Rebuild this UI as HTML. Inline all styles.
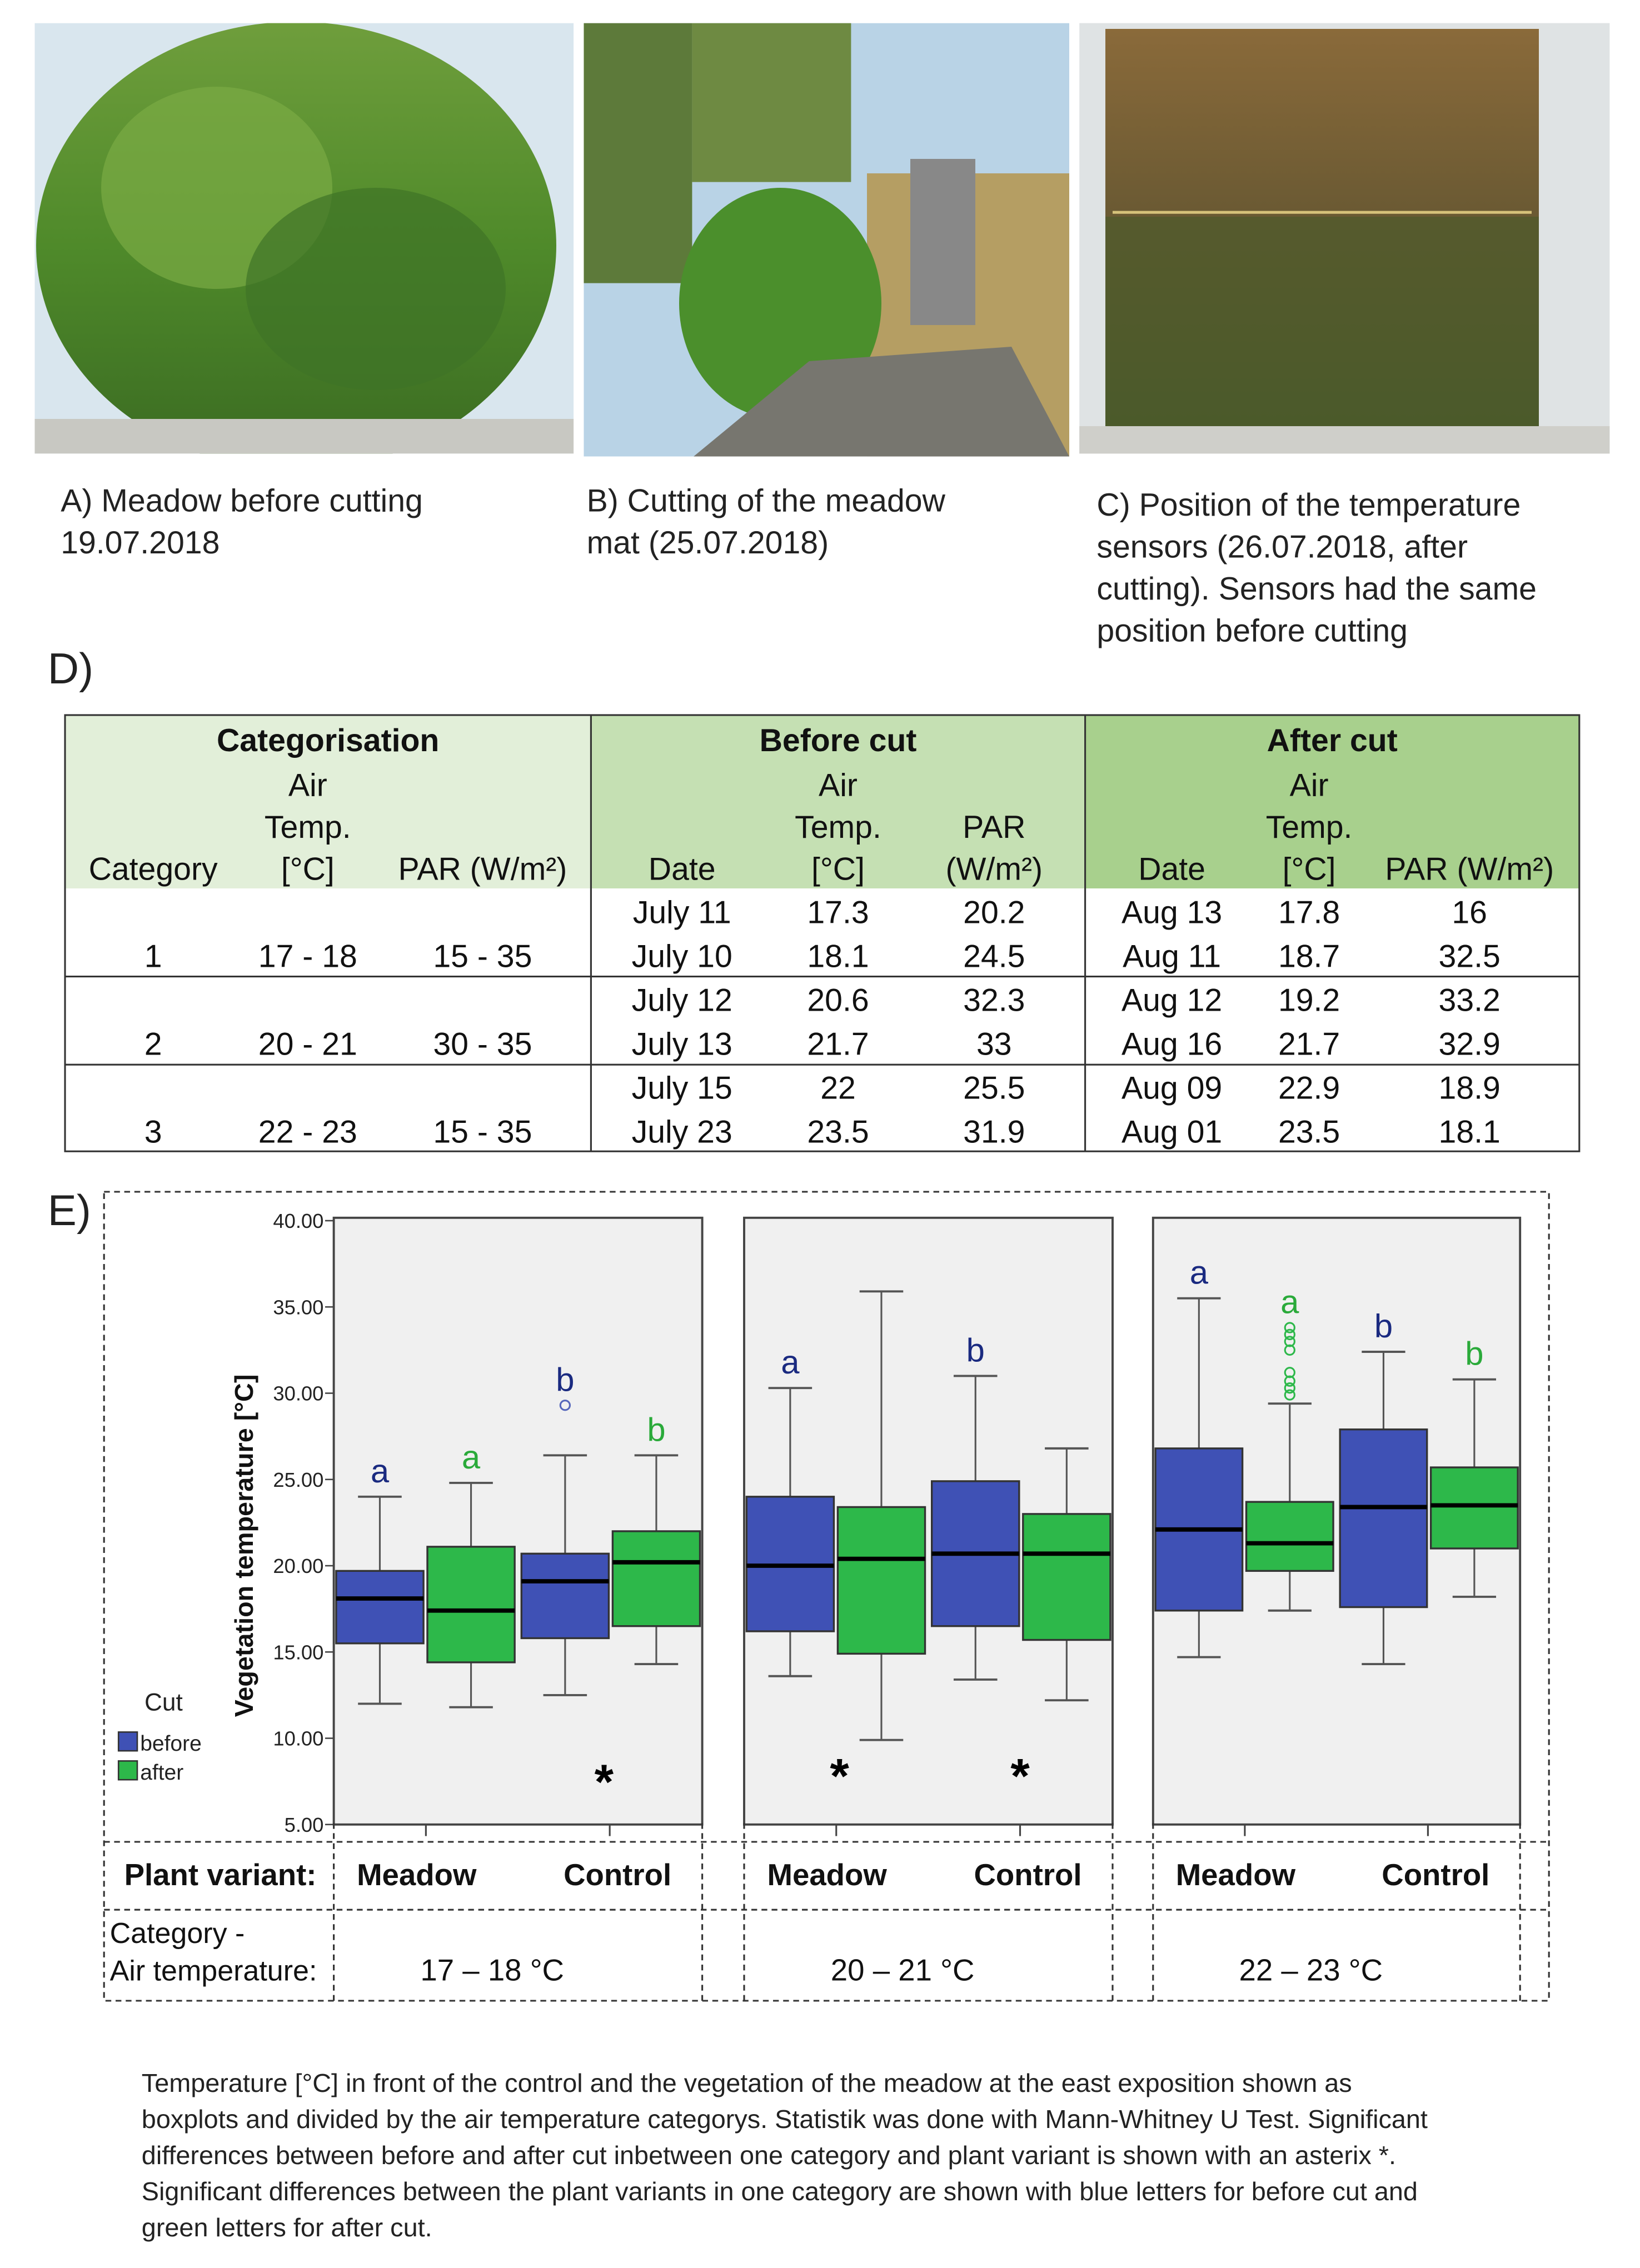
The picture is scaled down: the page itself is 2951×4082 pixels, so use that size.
<!DOCTYPE html>
<html><head><meta charset="utf-8"><style>
html,body{margin:0;padding:0;background:#fff;}
svg{display:block;font-family:"Liberation Sans",Arial,sans-serif;}
</style></head><body>
<svg id="fig" width="2951" height="4082" viewBox="0 0 1135 1570" xmlns="http://www.w3.org/2000/svg">
<defs>
<linearGradient id="gA" x1="0" y1="0" x2="0" y2="1"><stop offset="0" stop-color="#6f9e3c"/><stop offset="0.5" stop-color="#4f8a2a"/><stop offset="1" stop-color="#3a6a22"/></linearGradient>
<linearGradient id="gC" x1="0" y1="0" x2="0" y2="1"><stop offset="0" stop-color="#8a6a3a"/><stop offset="0.45" stop-color="#6b5a33"/><stop offset="1" stop-color="#4d5a2c"/></linearGradient>
<clipPath id="cA"><rect x="24" y="16" width="373" height="298"/></clipPath>
<clipPath id="cB"><rect x="404" y="16" width="336" height="300"/></clipPath>
</defs>
<g clip-path="url(#cA)">
<rect x="24" y="16" width="373" height="298" fill="#d9e6ee"/>
<ellipse cx="205" cy="170" rx="180" ry="155" fill="url(#gA)"/>
<ellipse cx="150" cy="130" rx="80" ry="70" fill="#7aab45" opacity="0.7"/>
<ellipse cx="260" cy="200" rx="90" ry="70" fill="#3f7326" opacity="0.7"/>
<rect x="24" y="290" width="373" height="24" fill="#c8c8c2"/>
</g>
<g clip-path="url(#cB)">
<rect x="404" y="16" width="336" height="300" fill="#b9d3e6"/>
<rect x="404" y="16" width="75" height="180" fill="#5d7a3a"/>
<rect x="479" y="16" width="110" height="110" fill="#6e8a42"/>
<rect x="600" y="120" width="140" height="196" fill="#b59e63"/>
<ellipse cx="540" cy="210" rx="70" ry="80" fill="#4b8f2c"/>
<polygon points="480,316 560,250 700,240 740,316" fill="#77766f"/>
<rect x="630" y="110" width="45" height="115" fill="#888"/>
</g>
<g>
<rect x="747" y="16" width="367" height="298" fill="#dfe3e4"/>
<rect x="765" y="20" width="300" height="280" fill="url(#gC)"/>
<rect x="765" y="150" width="300" height="150" fill="#4a5a2a" opacity="0.6"/>
<line x1="770" y1="147" x2="1060" y2="147" stroke="#d6c27a" stroke-width="2"/>
<rect x="747" y="295" width="367" height="19" fill="#cfcfca"/>
</g>
<g font-size="22" fill="#222">
<text x="42" y="354">A) Meadow before cutting</text>
<text x="42" y="383">19.07.2018</text>
<text x="406" y="354">B) Cutting of the meadow</text>
<text x="406" y="383">mat (25.07.2018)</text>
<text x="759" y="357">C) Position of the temperature</text>
<text x="759" y="386">sensors (26.07.2018, after</text>
<text x="759" y="415">cutting). Sensors had the same</text>
<text x="759" y="444">position before cutting</text>
</g>
<text x="33" y="473" font-size="30" fill="#222">D)</text>
<g>
<rect x="45" y="495" width="364" height="120" fill="#e2efd9"/>
<rect x="409" y="495" width="342" height="120" fill="#c5e0b3"/>
<rect x="751" y="495" width="342" height="120" fill="#a8d08d"/>
<g stroke="#333" stroke-width="1.2" fill="none">
<rect x="45" y="495" width="1048" height="302"/>
<line x1="409" y1="495" x2="409" y2="797"/><line x1="751" y1="495" x2="751" y2="797"/>
<line x1="45" y1="676" x2="1093" y2="676"/><line x1="45" y1="737" x2="1093" y2="737"/>
</g>
<g font-size="22" fill="#111" text-anchor="middle">
<text x="227" y="520" font-weight="bold">Categorisation</text>
<text x="580" y="520" font-weight="bold">Before cut</text>
<text x="922" y="520" font-weight="bold">After cut</text>
<text x="213" y="551">Air</text><text x="213" y="580">Temp.</text>
<text x="106" y="609">Category</text><text x="213" y="609">[°C]</text><text x="334" y="609">PAR (W/m²)</text>
<text x="580" y="551">Air</text><text x="580" y="580">Temp.</text><text x="688" y="580">PAR</text>
<text x="472" y="609">Date</text><text x="580" y="609">[°C]</text><text x="688" y="609">(W/m²)</text>
<text x="906" y="551">Air</text><text x="906" y="580">Temp.</text>
<text x="811" y="609">Date</text><text x="906" y="609">[°C]</text><text x="1017" y="609">PAR (W/m²)</text>
</g>
<g id="tbody" font-size="22" fill="#111" text-anchor="middle"></g>
</g>
<text x="33" y="848" font-size="30" fill="#222">E)</text>
<g id="chart"></g>
<g font-size="18" fill="#222">
<text x="98" y="1448">Temperature [°C] in front of the control and the vegetation of the meadow at the east exposition shown as</text>
<text x="98" y="1473">boxplots and divided by the air temperature categorys. Statistik was done with Mann-Whitney U Test. Significant</text>
<text x="98" y="1498">differences between before and after cut inbetween one category and plant variant is shown with an asterix *.</text>
<text x="98" y="1523">Significant differences between the plant variants in one category are shown with blue letters for before cut and</text>
<text x="98" y="1548">green letters for after cut.</text>
</g>
</svg>
<script>
const tableRows=[
 ["","","","July 11","17.3","20.2","Aug 13","17.8","16"],
 ["1","17 - 18","15 - 35","July 10","18.1","24.5","Aug 11","18.7","32.5"],
 ["","","","July 12","20.6","32.3","Aug 12","19.2","33.2"],
 ["2","20 - 21","30 - 35","July 13","21.7","33","Aug 16","21.7","32.9"],
 ["","","","July 15","22","25.5","Aug 09","22.9","18.9"],
 ["3","22 - 23","15 - 35","July 23","23.5","31.9","Aug 01","23.5","18.1"]];
const colX=[106,213,334,472,580,688,811,906,1017];
const NS="http://www.w3.org/2000/svg";
function mk(tag,attrs,parent,txt){const e=document.createElementNS(NS,tag);for(const k in attrs)e.setAttribute(k,attrs[k]);if(txt!==undefined)e.textContent=txt;parent.appendChild(e);return e;}
const tb=document.getElementById('tbody');
tableRows.forEach((r,i)=>r.forEach((v,j)=>{if(!v)return;const t=mk('text',{x:colX[j],y:639+i*30.4},tb,v);

}));

const panelLabels=["17 – 18 °C","20 – 21 °C","22 – 23 °C"];
const variants=["Meadow","Control"];
const whiskerLow=[12.0,11.8,12.5,14.3, 13.6,9.9,13.4,12.2, 14.7,17.4,14.3,18.2];
const q1=[15.5,14.4,15.8,16.5, 16.2,14.9,16.5,15.7, 17.4,19.7,17.6,21.0];
const median=[18.1,17.4,19.1,20.2, 20.0,20.4,20.7,20.7, 22.1,21.3,23.4,23.5];
const q3=[19.7,21.1,20.7,22.0, 24.0,23.4,24.9,23.0, 26.8,23.7,27.9,25.7];
const whiskerHigh=[24.0,24.8,26.4,26.4, 30.3,35.9,31.0,26.8, 35.5,29.4,32.4,30.8];
const outliers=[[],[],[29.3],[], [],[],[],[], [],[29.9,30.3,30.7,31.2,32.5,33.0,33.4,33.8],[],[]];
const letters=["a","a","b","b", "a","","b","", "a","a","b","b"];
const yTicks=[5,10,15,20,25,30,35,40];
const yMin=5,yMax=40,yTop=845,yBot=1263;
const y=v=>yBot-(v-yMin)/(yMax-yMin)*(yBot-yTop);
const panelX=[[231,486],[515,770],[798,1052]];
const ch=document.getElementById('chart');
const BLUE="#3f51b5",GREEN="#2db84a";
const fr=mk('rect',{x:72,y:825,width:1000,height:560,fill:'none',stroke:'#333','stroke-dasharray':'4,3','stroke-width':1.2},ch);


panelX.forEach((px,p)=>{
 const bg=mk('rect',{x:px[0],y:yTop-2,width:px[1]-px[0],height:yBot-yTop+2,fill:'#f0f0f0',stroke:'#444','stroke-width':1.5},ch);
 
 
 const w=(px[1]-px[0]);
 for(let k=0;k<4;k++){
  const i=p*4+k;
  const cx=px[0]+w*(0.125+0.2475*k)+(k>=2?2:0);
  const bw=w*0.237;
  const col=k%2===0?BLUE:GREEN;
  const g=mk('g',{},ch);
  
  
  mk('line',{x1:cx,x2:cx,y1:y(whiskerLow[i]),y2:y(whiskerHigh[i]),stroke:'#555','stroke-width':1.2},g);
  mk('line',{x1:cx-bw/4,x2:cx+bw/4,y1:y(whiskerLow[i]),y2:y(whiskerLow[i]),stroke:'#555','stroke-width':1.5},g);
  mk('line',{x1:cx-bw/4,x2:cx+bw/4,y1:y(whiskerHigh[i]),y2:y(whiskerHigh[i]),stroke:'#555','stroke-width':1.5},g);
  mk('rect',{x:cx-bw/2,y:y(q3[i]),width:bw,height:y(q1[i])-y(q3[i]),fill:col,stroke:'#333','stroke-width':1.3},g);
  mk('line',{x1:cx-bw/2,x2:cx+bw/2,y1:y(median[i]),y2:y(median[i]),stroke:'#000','stroke-width':3},g);
  outliers[i].forEach(o=>mk('circle',{cx:cx,cy:y(o),r:3.3,fill:'none',stroke:k%2?GREEN:'#5566bb','stroke-width':1.2},g));
  if(letters[i]){const top=Math.max(whiskerHigh[i],...outliers[i]);
   mk('text',{x:cx,y:y(top)-10,'font-size':23,'text-anchor':'middle',fill:k%2?'#2aaa3a':'#1a2a80'},g,letters[i]);}
 }
 [0,1].forEach(v=>{const tx=px[0]+w*(0.25+0.495*v)+(v?1:0);mk('line',{x1:tx,x2:tx,y1:yBot,y2:yBot+8,stroke:'#444','stroke-width':1.2},ch);});
});
[[418,1245],[581,1241],[706,1241]].forEach(([ax,ay])=>{const t=mk('text',{x:ax,y:ay,'font-size':34,'font-weight':'bold','text-anchor':'middle',fill:'#000'},ch,'*');
 
 });
yTicks.forEach(v=>{mk('line',{x1:225,x2:231,y1:y(v),y2:y(v),stroke:'#444'},ch);
 const t=mk('text',{x:224,y:y(v)+5,'font-size':14,'text-anchor':'end',fill:'#222'},ch,v.toFixed(2));
 
 });
const yl=mk('text',{x:0,y:0,'font-size':18,'font-weight':'bold','text-anchor':'middle',fill:'#111',transform:'translate(175,1070) rotate(-90)'},ch,'Vegetation temperature [°C]');


const lg=mk('g',{},ch);


mk('text',{x:100,y:1184,'font-size':17,fill:'#222'},lg,'Cut');
mk('rect',{x:82,y:1199,width:13,height:13,fill:BLUE,stroke:'#333'},lg);
mk('text',{x:97,y:1212,'font-size':15,fill:'#222'},lg,'before');
mk('rect',{x:82,y:1219,width:13,height:13,fill:GREEN,stroke:'#333'},lg);
mk('text',{x:97,y:1232,'font-size':15,fill:'#222'},lg,'after');
const bt=mk('g',{stroke:'#333','stroke-dasharray':'4,3','stroke-width':1.2,fill:'none'},ch);


[1275,1322].forEach(yy=>mk('line',{x1:72,x2:1072,y1:yy,y2:yy},bt));
[231,486,515,770,798,1052].forEach(xx=>mk('line',{x1:xx,x2:xx,y1:1262,y2:1385},bt));
const pv=mk('text',{x:86,y:1305,'font-size':21,'font-weight':'bold',fill:'#111'},ch,'Plant variant:');


panelX.forEach((px,p)=>{const w=px[1]-px[0];
 variants.forEach((v,k)=>{const t=mk('text',{x:px[0]+w*(0.225+0.545*k),y:1305,'font-size':21,'font-weight':'bold','text-anchor':'middle',fill:'#111'},ch,v);
  
  });
 const c=mk('text',{x:px[0]+w*0.43,y:1371,'font-size':21,'text-anchor':'middle',fill:'#111'},ch,panelLabels[p]);
 
 
});
mk('text',{x:76,y:1345,'font-size':20,fill:'#111'},ch,'Category -');
mk('text',{x:76,y:1371,'font-size':20,fill:'#111'},ch,'Air temperature:');
</script>
</body></html>
